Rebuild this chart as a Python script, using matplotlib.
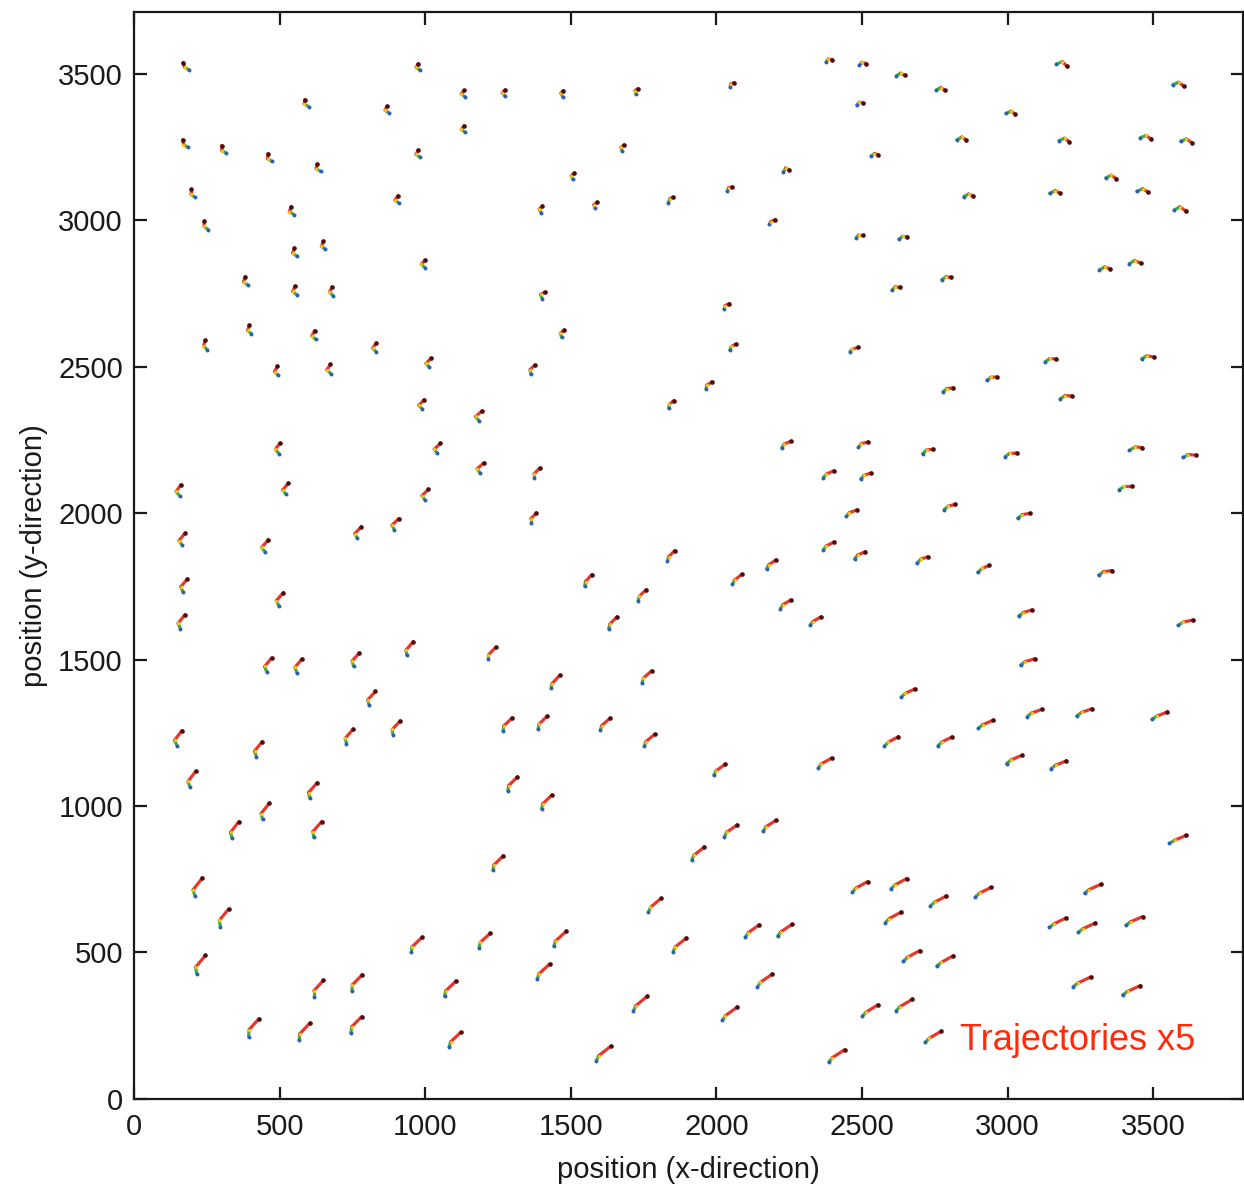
import numpy as np
import matplotlib
matplotlib.use("Agg")
import matplotlib.pyplot as plt
from matplotlib.collections import LineCollection

plt.rcParams['font.family'] = ['Liberation Sans', 'DejaVu Sans']

# Track centres (pixel units of the field of view)
track_x = [
    179, 979, 1135, 593, 872, 1135, 176, 309, 467, 979, 635, 202, 908, 544, 248, 654, 555, 1000,
    386, 556, 682, 400, 622, 248, 832, 1017, 494, 675, 993, 1189, 499, 1047, 1195, 159, 526, 1005,
    170, 455, 774, 902,
    1274, 1473, 1727, 2054, 2387, 2502, 2493, 1679, 1509, 2240, 2045, 1842, 1400, 1587, 2192, 2492,
    1406, 2035, 1473, 2056, 2473, 1369, 1974, 1845, 2240, 2504, 1383, 2385, 2513, 1372, 2464, 1844,
    2385, 2493, 2188,
    2632, 3185, 2769, 3586, 3010, 2841, 3194, 3474, 3613, 2543, 3355, 2865, 3162, 3463, 3592, 2640,
    3334, 3437, 2789, 2617, 3148, 3481, 2946, 2795, 3200, 2726, 3011, 3440, 3624, 3405, 2801, 3055,
    2707, 2917,
    176, 505, 167, 464, 568, 764, 948, 1229, 818, 156, 430, 741, 902, 202, 616, 453, 348, 631,
    222, 311, 971, 1204, 230, 634, 766, 1086, 411, 585, 763, 1102,
    1560, 2071, 1745, 2237, 1644, 2340, 1447, 1761, 1283, 1403, 1618, 1770, 2011, 2373, 1300, 1417,
    2049, 2183, 1250, 1937, 2493, 1788, 1463, 1874, 2123, 2235, 1406, 2166, 1739, 2046, 1612, 2413,
    3335, 3060, 3610, 3069, 2658, 3092, 3263, 3522, 2924, 2601, 2785, 3022, 3175, 3584, 2626, 2916,
    2762, 3292, 2607, 3172, 3272, 3435, 2670, 2785, 3255, 3425, 2528, 2645, 2744,
]
track_y = [
    3526, 3523, 3432, 3400, 3377, 3311, 3262, 3242, 3214, 3227, 3179, 3092, 3071, 3033, 2982, 2914,
    2891, 2851, 2793, 2760, 2757, 2627, 2608, 2574, 2565, 2513, 2486, 2492, 2371, 2332, 2221, 2221,
    2154, 2078, 2083, 2063, 1911, 1888, 1934, 1962,
    3434, 3432, 3440, 3462, 3544, 3532, 3396, 3247, 3150, 3168, 3106, 3069, 3037, 3051, 2994, 2945,
    2743, 2706, 2613, 2567, 2559, 2490, 2436, 2371, 2234, 2234, 2136, 2133, 2127, 1983, 2000, 1854,
    1888, 1856, 1825,
    3494, 3530, 3444, 3460, 3363, 3275, 3270, 3279, 3267, 3221, 3143, 3082, 3092, 3097, 3033, 2939,
    2832, 2853, 2801, 2766, 2521, 2530, 2459, 2421, 2395, 2211, 2199, 2219, 2194, 2086, 2021, 1991,
    1840, 1810,
    1753, 1706, 1629, 1482, 1479, 1500, 1538, 1521, 1368, 1232, 1194, 1238, 1267, 1091, 1053, 982,
    918, 920, 724, 618, 526, 541, 459, 376, 396, 376, 243, 229, 253, 202,
    1771, 1774, 1720, 1688, 1626, 1632, 1424, 1441, 1279, 1285, 1279, 1224, 1124, 1147, 1076, 1014,
    915, 933, 805, 838, 724, 661, 547, 526, 573, 576, 435, 404, 326, 291, 155, 147,
    1796, 1659, 1626, 1492, 1386, 1318, 1320, 1309, 1279, 1221, 1221, 1159, 1141, 886, 735, 706,
    676, 718, 620, 602, 585, 608, 488, 471, 400, 371, 302, 321, 212,
]

# Net displacement of each track, first to last frame (magnified x5)
disp_x = [
    -20, -7, -4, -13, -9, -4, -18, -16, -14, -6, -11, -15, -4, -9, -13, -7, -8, 1,
    -9, -6, -4, -7, -4, -7, -1, 5, -3, -1, 6, 10, 3, 10, 13, 5, 7, 12,
    10, 12, 14, 15,
    -1, 2, 7, 14, 21, 23, 23, 7, 5, 21, 16, 15, 5, 8, 20, 25,
    8, 18, 10, 20, 29, 14, 20, 18, 32, 33, 20, 35, 35, 20, 36, 25,
    36, 37, 32,
    28, 35, 30, 38, 33, 31, 35, 38, 39, 25, 37, 32, 36, 39, 40, 28,
    38, 39, 31, 29, 39, 42, 36, 34, 40, 36, 40, 44, 45, 44, 38, 41,
    38, 40,
    15, 16, 15, 17, 18, 20, 22, 25, 22, 17, 20, 23, 25, 19, 25, 23, 23, 27,
    26, 28, 37, 38, 30, 33, 35, 39, 35, 36, 37, 40,
    25, 32, 28, 35, 28, 37, 29, 32, 31, 31, 33, 35, 40, 46, 33, 35,
    44, 45, 35, 43, 52, 43, 43, 46, 48, 50, 43, 51, 48, 51, 49, 54,
    46, 45, 50, 50, 47, 51, 52, 53, 50, 48, 49, 52, 53, 57, 54, 55,
    55, 56, 55, 57, 58, 58, 56, 57, 60, 61, 55, 56, 55,
]
disp_y = [
    25, 22, 22, 24, 23, 22, 26, 26, 26, 24, 25, 27, 25, 27, 28, 27,
    28, 26, 29, 29, 29, 30, 30, 31, 30, 30, 32, 31, 32, 32, 35, 34,
    35, 38, 38, 37, 41, 41, 40, 39,
    22, 21, 19, 14, 8, 6, 6, 20, 21, 7, 14, 18, 22, 20, 17, 10,
    23, 19, 25, 20, 15, 30, 24, 27, 23, 18, 35, 23, 20, 36, 22, 36,
    26, 25, 30,
    2, -6, 0, -6, -3, 0, -4, -5, -5, 5, -3, 3, 0, -3, -4, 8,
    3, 2, 8, 9, 10, 6, 12, 13, 10, 15, 12, 10, 8, 11, 18, 16,
    22, 24,
    45, 45, 47, 47, 47, 46, 47, 41, 47, 51, 51, 49, 47, 54, 52, 55,
    56, 54, 62, 61, 52, 49, 62, 58, 56, 52, 60, 58, 56, 51,
    39, 34, 38, 30, 40, 28, 44, 41, 44, 44, 42, 41, 39, 34, 47, 47,
    41, 38, 49, 44, 36, 47, 52, 47, 43, 41, 52, 44, 50, 46, 49, 42,
    16, 21, 18, 22, 28, 25, 24, 25, 27, 32, 30, 28, 27, 27, 35, 33,
    34, 30, 36, 32, 31, 29, 37, 36, 33, 32, 40, 39, 38,
]

# Offset of the turning point along each track, measured from its first frame
knee_x = [
    -15, -14, -13, -15, -14, -13, -15, -15, -15, -14, -15, -15, -14, -15, -14, -14, -14, -13,
    -14, -14, -13, -13, -13, -13, -13, -12, -13, -13, -12, -11, -12, -11, -10, -12, -12, -10,
    -10, -10, -9, -9,
    -10, -6, -3, 3, 7, 9, 9, -3, -5, 8, 5, 6, -6, -4, 5, 9,
    -6, 4, -4, 5, 8, -2, 3, 2, 8, 10, 0, 10, 11, 0, 10, 4,
    10, 10, 8,
    14, 20, 16, 21, 18, 17, 19, 20, 20, 12, 19, 17, 19, 20, 19, 14,
    18, 18, 15, 11, 16, 18, 15, 14, 17, 14, 16, 20, 19, 18, 14, 16,
    14, 15,
    -8, -8, -8, -7, -6, -5, -3, 0, -4, -8, -6, -4, -3, -7, -4, -5, -5, -3,
    -6, -4, 2, 4, -3, 0, 1, 4, 2, 2, 3, 5,
    3, 7, 4, 8, 4, 10, 3, 4, 2, 3, 4, 5, 7, 10, 3, 4,
    8, 9, 3, 7, 12, 7, 6, 8, 10, 11, 6, 10, 8, 10, 8, 12,
    17, 16, 18, 16, 14, 16, 17, 18, 15, 13, 14, 15, 16, 18, 14, 15,
    15, 16, 14, 16, 16, 17, 14, 15, 16, 17, 13, 14, 14,
]
knee_y = [
    9, 10, 10, 9, 10, 10, 9, 9, 9, 10, 10, 10, 10, 10, 11, 11,
    11, 12, 11, 12, 12, 12, 12, 12, 13, 13, 13, 13, 13, 14, 14, 14,
    15, 15, 15, 15, 16, 16, 16, 16,
    11, 12, 12, 11, 10, 10, 10, 12, 12, 14, 12, 14, 12, 12, 10, 10,
    15, 12, 14, 12, 8, 15, 13, 14, 13, 12, 15, 12, 12, 15, 12, 15,
    13, 13, 14,
    9, 8, 9, 8, 8, 9, 8, 8, 8, 9, 9, 9, 9, 9, 11, 10,
    10, 10, 10, 11, 12, 10, 11, 11, 11, 12, 11, 12, 10, 11, 12, 12,
    14, 13,
    18, 18, 18, 18, 18, 18, 18, 15, 18, 18, 19, 18, 18, 20, 19, 20,
    20, 20, 21, 22, 19, 18, 22, 22, 21, 19, 24, 22, 21, 18,
    15, 14, 15, 14, 15, 12, 16, 16, 16, 16, 16, 16, 15, 14, 17, 17,
    16, 15, 18, 16, 14, 17, 18, 17, 16, 15, 18, 16, 17, 16, 17, 15,
    12, 12, 11, 12, 13, 12, 12, 11, 12, 13, 13, 12, 12, 11, 13, 13,
    13, 12, 14, 12, 12, 12, 14, 13, 12, 12, 14, 14, 14,
]

x_ticks = [0, 500, 1000, 1500, 2000, 2500, 3000, 3500]
y_ticks = [0, 500, 1000, 1500, 2000, 2500, 3000, 3500]

cx, cy = np.asarray(track_x, float), np.asarray(track_y, float)
dx, dy = np.asarray(disp_x, float), np.asarray(disp_y, float)
kx, ky = np.asarray(knee_x, float), np.asarray(knee_y, float)

start = np.column_stack([cx - dx / 2, cy - dy / 2])
knee = start + np.column_stack([kx, ky])
end = start + np.column_stack([dx, dy])

fig = plt.figure(figsize=(12.44, 11.86), dpi=100)
ax = fig.add_axes([0.1077, 0.0734, 0.8915, 0.9165])

early = LineCollection(np.stack([start, knee], axis=1), colors='#3fae49',
                       linewidths=2.3, capstyle='round', zorder=2)
late = LineCollection(np.stack([knee, end], axis=1), colors='#e5382c',
                      linewidths=2.3, capstyle='round', zorder=2)
ax.add_collection(early)
ax.add_collection(late)
ax.scatter(start[:, 0], start[:, 1], s=8, color='#2f5fb3', lw=0, zorder=3)
ax.scatter(knee[:, 0], knee[:, 1], s=6, color='#f0c51e', lw=0, zorder=3)
ax.scatter(end[:, 0], end[:, 1], s=11, color='#4e0d0d', lw=0, zorder=3)

ax.set_xlim(0, 3808)
ax.set_ylim(0, 3711)
ax.set_xticks(x_ticks)
ax.set_yticks(y_ticks)
ax.tick_params(direction='in', length=9, width=1.6, top=True, right=True,
               labelsize=21, colors='#1a1a1a', labelcolor='#1a1a1a')
ax.tick_params(axis='x', pad=10)
ax.tick_params(axis='y', pad=8)
for sp in ax.spines.values():
    sp.set_linewidth(1.6)
    sp.set_color('#1a1a1a')

ax.set_xlabel('position (x-direction)', fontsize=21, labelpad=11, color='#1a1a1a')
ax.set_ylabel('position (y-direction)', fontsize=21, labelpad=7, color='#1a1a1a')

ax.text(2837, 201, 'Trajectories x5', fontsize=26, color='#ff2a0a',
        ha='left', va='center')

fig.savefig('out.png', dpi=100)
